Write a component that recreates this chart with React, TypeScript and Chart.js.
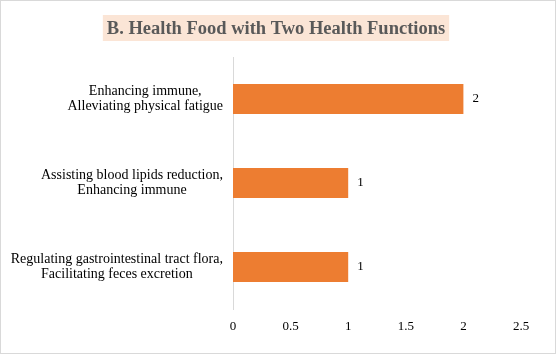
import React, { useEffect, useRef } from 'react';
import { Chart, registerables } from 'chart.js';

Chart.register(...registerables);

const categories: string[][] = [
  ['Enhancing immune,', 'Alleviating physical fatigue'],
  ['Assisting blood lipids reduction,', 'Enhancing immune'],
  ['Regulating gastrointestinal tract flora,', 'Facilitating feces excretion'],
];
const values: number[] = [2, 1, 1];
const xMin = 0;
const xMax = 2.5;
const xStep = 0.5;
const titleText = 'B. Health Food with Two Health Functions';

const SERIF = '"Liberation Serif", "Times New Roman", serif';
const TITLE_SIZE = 18.5;
const CAT_SIZE = 14;
const CAT_LINE = 15;
const CAT_GAP = 10;

// Title with peach background, centred across the picture
const titlePlugin = {
  id: 'titleBox',
  beforeDraw(chart: any) {
    const ctx = chart.ctx;
    ctx.save();
    ctx.font = `bold ${TITLE_SIZE}px ${SERIF}`;
    const w = ctx.measureText(titleText).width;
    const cx = chart.width / 2 - 2;
    const cy = 28;
    ctx.fillStyle = '#FBE5D6';
    ctx.fillRect(cx - w / 2 - 4, cy - 13, w + 8, 26);
    ctx.fillStyle = '#595959';
    ctx.textAlign = 'center';
    ctx.textBaseline = 'middle';
    ctx.fillText(titleText, cx, cy + 1);
    ctx.restore();
  },
};

// Category labels: each block right-aligned to the axis, its lines centred
const categoryLabelPlugin = {
  id: 'catLabels',
  afterDraw(chart: any) {
    const ctx = chart.ctx;
    const yScale = chart.scales.y;
    ctx.save();
    ctx.font = `${CAT_SIZE}px ${SERIF}`;
    ctx.fillStyle = '#000000';
    ctx.textAlign = 'center';
    ctx.textBaseline = 'middle';
    const right = yScale.right - CAT_GAP;
    categories.forEach((lines, i) => {
      const y = yScale.getPixelForTick(i);
      const bw = Math.max(...lines.map((l) => ctx.measureText(l).width));
      const cx = right - bw / 2;
      const top = y - ((lines.length - 1) * CAT_LINE) / 2;
      lines.forEach((l, j) => ctx.fillText(l, cx, top + j * CAT_LINE));
    });
    ctx.restore();
  },
};

const framePlugin = {
  id: 'frame',
  afterDraw(chart: any) {
    const ctx = chart.ctx;
    ctx.save();
    ctx.strokeStyle = '#D9D9D9';
    ctx.lineWidth = 1;
    ctx.strokeRect(0.5, 0.5, chart.width - 1, chart.height - 2);
    ctx.restore();
  },
};

const valueLabelPlugin = {
  id: 'valueLabels',
  afterDatasetsDraw(chart: any) {
    const ctx = chart.ctx;
    const meta = chart.getDatasetMeta(0);
    ctx.save();
    ctx.font = `13px ${SERIF}`;
    ctx.fillStyle = '#000000';
    ctx.textAlign = 'left';
    ctx.textBaseline = 'middle';
    meta.data.forEach((el: any, i: number) => {
      ctx.fillText(String(values[i]), el.x + 9, el.y);
    });
    ctx.restore();
  },
};

export default function App() {
  const ref = useRef<HTMLCanvasElement | null>(null);

  useEffect(() => {
    document.body.style.margin = '0';
    const canvas = ref.current;
    if (!canvas) return;
    const chart = new Chart(canvas, {
      type: 'bar',
      data: {
        labels: categories.map((c) => c.join(' ')),
        datasets: [
          {
            data: values,
            backgroundColor: '#ED7D31',
            borderWidth: 0,
            barPercentage: 0.356,
            categoryPercentage: 1,
          },
        ],
      },
      options: {
        indexAxis: 'y',
        animation: false,
        responsive: false,
        maintainAspectRatio: false,
        layout: { padding: { left: 0, right: 35, top: 57, bottom: 10.4 } },
        plugins: {
          legend: { display: false },
          tooltip: { enabled: false },
          title: { display: false },
        },
        scales: {
          x: {
            min: xMin,
            max: xMax,
            grid: { display: false, drawTicks: false },
            border: { display: false },
            ticks: {
              stepSize: xStep,
              color: '#000000',
              padding: 10,
              font: { family: SERIF, size: 13, lineHeight: 1.2 },
              maxRotation: 0,
              callback: (v: any) => String(Number(v)),
            },
          },
          y: {
            grid: { display: false, drawTicks: false },
            border: { display: true, color: '#D9D9D9', width: 1 },
            ticks: { display: false },
            afterFit(scale: any) {
              scale.width = 233;
            },
          },
        },
      },
      plugins: [titlePlugin, valueLabelPlugin, categoryLabelPlugin, framePlugin],
    } as any);
    return () => chart.destroy();
  }, []);

  return (
    <div style={{ width: 556, height: 355 }}>
      <canvas ref={ref} width={556} height={355} style={{ display: 'block' }} />
    </div>
  );
}
